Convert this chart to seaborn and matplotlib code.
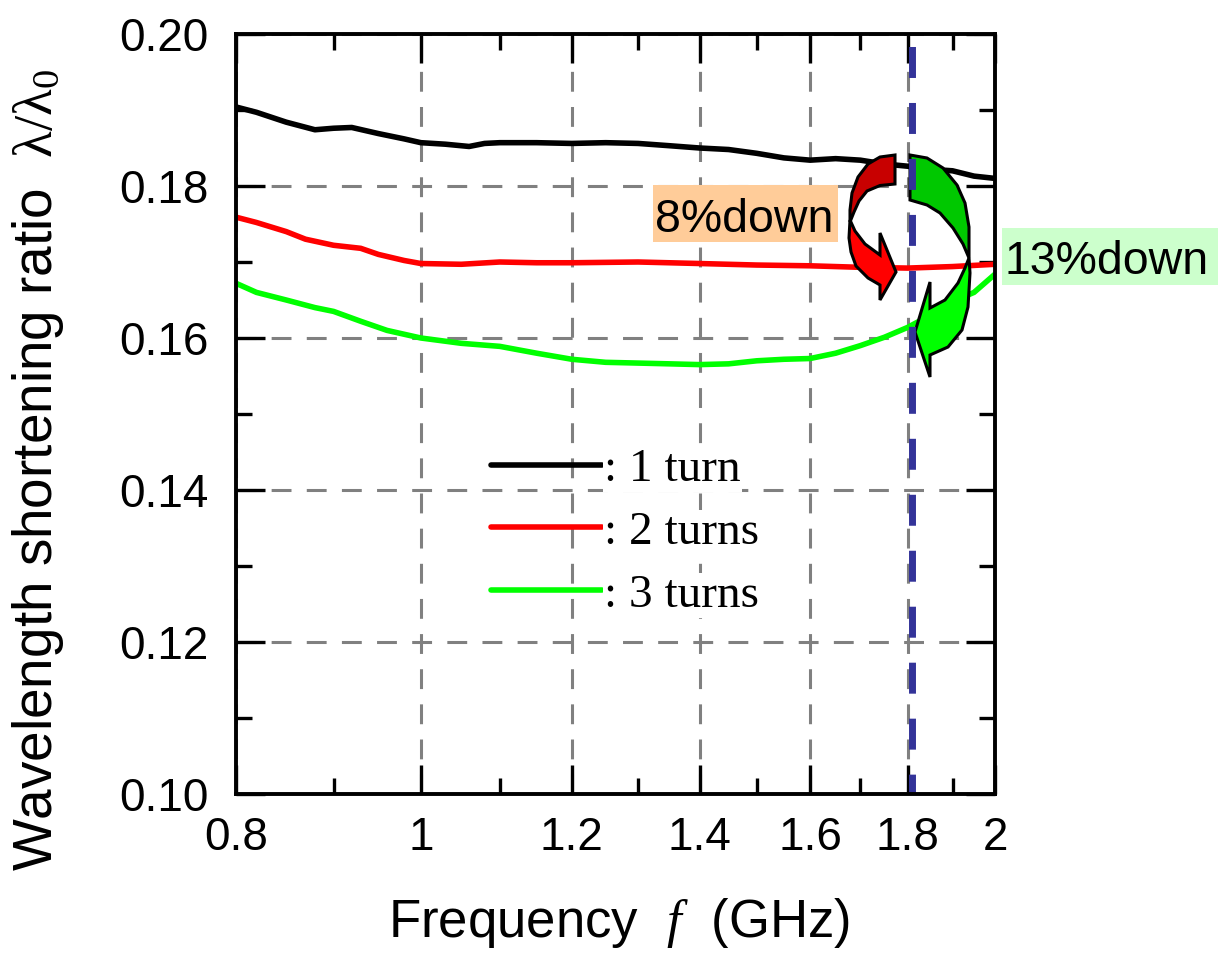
import numpy as np
import pandas as pd
import matplotlib
matplotlib.use("Agg")
import matplotlib.pyplot as plt
import seaborn as sns
from matplotlib.patches import Polygon, Rectangle
from matplotlib.ticker import FixedLocator, FixedFormatter, NullFormatter

# ---------------- data ----------------
freq_1 = [0.80, 0.82, 0.85, 0.88, 0.90, 0.92, 0.95, 0.98, 1.00, 1.03, 1.06, 1.08,
          1.10, 1.15, 1.20, 1.25, 1.30, 1.35, 1.40, 1.45, 1.50, 1.55, 1.60, 1.65,
          1.70, 1.75, 1.80, 1.85, 1.90, 1.95, 2.00]
ratio_1 = [0.1904, 0.1897, 0.1884, 0.1874, 0.1876, 0.1877, 0.1869, 0.1862, 0.1857,
           0.1855, 0.1852, 0.1856, 0.1857, 0.1857, 0.1856, 0.1857, 0.1856, 0.1853,
           0.1850, 0.1848, 0.1843, 0.1837, 0.1834, 0.1836, 0.1834, 0.1829, 0.1826,
           0.1822, 0.1820, 0.1813, 0.1810]

freq_2 = [0.80, 0.82, 0.85, 0.87, 0.90, 0.93, 0.95, 0.98, 1.00, 1.05, 1.10, 1.15,
          1.20, 1.30, 1.40, 1.50, 1.60, 1.70, 1.80, 1.90, 2.00]
ratio_2 = [0.1759, 0.1752, 0.1740, 0.1730, 0.1722, 0.1718, 0.1710, 0.1702, 0.1698,
           0.1697, 0.1700, 0.1699, 0.1699, 0.1700, 0.1698, 0.1696, 0.1695, 0.1693,
           0.1692, 0.1694, 0.1697]

freq_3 = [0.80, 0.82, 0.85, 0.88, 0.90, 0.93, 0.96, 1.00, 1.05, 1.10, 1.15, 1.20,
          1.25, 1.30, 1.35, 1.40, 1.45, 1.50, 1.55, 1.60, 1.65, 1.70, 1.75, 1.80,
          1.85, 1.90, 1.95, 2.00]
ratio_3 = [0.1672, 0.1660, 0.1650, 0.1640, 0.1635, 0.1622, 0.1610, 0.1600, 0.1593,
           0.1589, 0.1580, 0.1572, 0.1568, 0.1567, 0.1566, 0.1565, 0.1566, 0.1570,
           0.1572, 0.1573, 0.1580, 0.1590, 0.1601, 0.1614, 0.1630, 0.1648, 0.1660,
           0.1684]

series_names = ["1 turn", "2 turns", "3 turns"]
legend_labels = [": 1 turn", ": 2 turns", ": 3 turns"]
series_colors = ["#000000", "#FF0000", "#00FF00"]

x_major = [0.8, 1.0, 1.2, 1.4, 1.6, 1.8, 2.0]
x_major_labels = ["0.8", "1", "1.2", "1.4", "1.6", "1.8", "2"]
x_minor = [0.9, 1.1, 1.3, 1.5, 1.7, 1.9]
y_major = [0.10, 0.12, 0.14, 0.16, 0.18, 0.20]
y_major_labels = ["0.10", "0.12", "0.14", "0.16", "0.18", "0.20"]
y_minor = [0.11, 0.13, 0.15, 0.17, 0.19]
marker_freq = 1.81

df = pd.concat([
    pd.DataFrame({"f": freq_1, "ratio": ratio_1, "turns": series_names[0]}),
    pd.DataFrame({"f": freq_2, "ratio": ratio_2, "turns": series_names[1]}),
    pd.DataFrame({"f": freq_3, "ratio": ratio_3, "turns": series_names[2]}),
])

# ---------------- style ----------------
sns.set_style("white")
plt.rcParams["font.family"] = ["Liberation Sans", "DejaVu Sans"]
plt.rcParams["mathtext.fontset"] = "custom"
plt.rcParams["mathtext.rm"] = "Liberation Serif"
plt.rcParams["mathtext.it"] = "Liberation Serif:italic"
for k in ["text.color", "axes.labelcolor", "xtick.color", "ytick.color"]:
    plt.rcParams[k] = "black"

W, H = 1218, 965
fig = plt.figure(figsize=(W / 100, H / 100), dpi=100)
ax = fig.add_axes([236 / W, 1 - 794 / H, (995 - 236) / W, (794 - 34) / H])


def P(x, y):
    return (x / W, 1 - y / H)


sns.lineplot(data=df, x="f", y="ratio", hue="turns",
             palette=dict(zip(series_names, series_colors)),
             linewidth=4.0, errorbar=None, ax=ax, legend=True, zorder=2)

ax.set_xscale("log")
ax.set_xlim(0.8, 2.0)
ax.set_ylim(0.10, 0.20)
ax.xaxis.set_major_locator(FixedLocator(x_major))
ax.xaxis.set_major_formatter(FixedFormatter(x_major_labels))
ax.xaxis.set_minor_locator(FixedLocator(x_minor))
ax.xaxis.set_minor_formatter(NullFormatter())
ax.yaxis.set_major_locator(FixedLocator(y_major))
ax.yaxis.set_major_formatter(FixedFormatter(y_major_labels))
ax.yaxis.set_minor_locator(FixedLocator(y_minor))

ax.tick_params(which="both", direction="in", top=True, right=True,
               bottom=True, left=True, width=2.4, color="black")
ax.tick_params(which="major", length=21)
ax.tick_params(which="minor", length=11.5)
ax.tick_params(axis="y", which="major", labelsize=33, pad=20, labelcolor="black")
ax.tick_params(axis="x", which="major", labelsize=33, pad=16, labelcolor="black")
for s in ax.spines.values():
    s.set_linewidth(2.8)
    s.set_color("black")
    s.set_zorder(7)

ax.grid(True, which="major", color="#808080", linewidth=2.2,
        linestyle=(0, (6.5, 5)), zorder=1)
ax.set_axisbelow(True)

ax.set_xlabel("")
ax.set_ylabel("")
fig.text(*P(619, 937), r"Frequency  $f$  (GHz)", fontsize=38,
         ha="center", va="baseline", color="black")
fig.text(*P(38, 470), r"Wavelength shortening ratio  $\mathrm{\lambda/\lambda_0}$",
         fontsize=39.5, rotation=90, ha="center", va="center", color="black")

# blue marker line
ax.axvline(marker_freq, color="#333399", linewidth=5,
           linestyle=(1.6, (4.46, 3.6)), zorder=6)

# legend
handles, labels = ax.get_legend_handles_labels()
leg = ax.legend(handles, legend_labels, loc="upper left",
                bbox_to_anchor=P(491, 448), bbox_transform=fig.transFigure,
                frameon=False, handlelength=2.35, handletextpad=0.05,
                borderpad=0, borderaxespad=0, labelspacing=0.42,
                prop={"family": "Liberation Serif", "size": 34})
for ln in leg.get_lines():
    ln.set_linewidth(4.0)
for t in leg.get_texts():
    t.set_color("black")
    t.set_bbox(dict(facecolor="white", edgecolor="none", pad=1))

# curved arrows (annotation shapes, figure pixel coordinates)
red_dark = [(895, 155), (880, 157), (868, 164), (858, 177), (852, 193), (850, 210),
            (850, 222), (854, 212), (859, 201), (867, 191), (880, 185.5), (895, 184)]
red_bright = [(850, 220), (849, 238), (851, 252), (856, 266), (868, 278), (880, 285),
              (880, 300), (896, 272), (880, 233), (880, 255), (865, 244), (855, 231)]
green_dark = [(910, 155), (927, 158), (943, 168), (957, 185), (965, 203), (969, 227),
              (969, 258), (963, 244), (953, 228), (940, 213), (927, 205), (910, 200)]
green_bright = [(969, 258), (970, 273), (968, 307), (962, 330), (948, 347), (930, 355),
                (930, 377), (915, 332), (930, 282), (930, 308), (945, 300), (958, 283),
                (965, 268)]
for pts, col in [(red_dark, "#C80000"), (red_bright, "#FF0000"),
                 (green_dark, "#00C800"), (green_bright, "#00FF00")]:
    poly = Polygon([P(x, y) for x, y in pts], closed=True, facecolor=col,
                   edgecolor="black", linewidth=2.2, joinstyle="miter",
                   transform=fig.transFigure, zorder=4, clip_on=False)
    ax.add_patch(poly)

# annotation text boxes
fig.patches.append(Rectangle(P(653, 242), 185 / W, 57 / H, transform=fig.transFigure,
                             facecolor="#FFCC99", edgecolor="none", zorder=8))
fig.patches.append(Rectangle(P(1002, 285), 216 / W, 57 / H, transform=fig.transFigure,
                             facecolor="#CCFFCC", edgecolor="none", zorder=8))
fig.text(*P(655, 231.5), "8%down", fontsize=33.5, ha="left", va="baseline",
         color="black", zorder=9)
fig.text(*P(1004, 273.5), "13%down", fontsize=33.5, ha="left", va="baseline",
         color="black", zorder=9)

fig.savefig("out.png", dpi=100)
